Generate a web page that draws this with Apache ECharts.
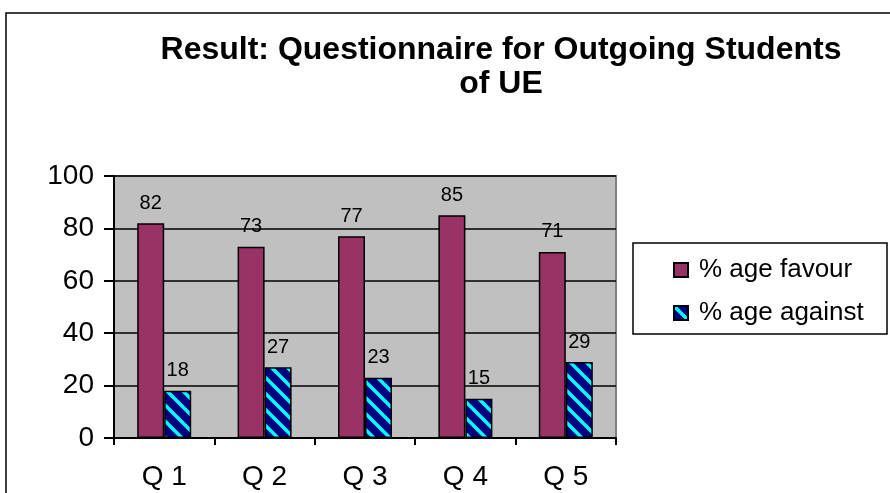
<!DOCTYPE html>
<html><head><meta charset="utf-8">
<script src="https://cdn.jsdelivr.net/npm/echarts@6/dist/echarts.min.js"></script>
<style>html,body{margin:0;padding:0;background:#fff}#c{width:890px;height:493px}</style>
</head><body><div id="c"></div>
<script>
const categories = ['Q 1', 'Q 2', 'Q 3', 'Q 4', 'Q 5'];
const favourValues = [82, 73, 77, 85, 71];
const againstValues = [18, 27, 23, 15, 29];
const seriesNames = ['% age favour', '% age against'];
const titleText = 'Result: Questionnaire for Outgoing Students\nof UE';

function stripePattern() {
  const s = 16;
  const cv = document.createElement('canvas');
  cv.width = s; cv.height = s;
  const ctx = cv.getContext('2d');
  ctx.fillStyle = '#000080';
  ctx.fillRect(0, 0, s, s);
  ctx.strokeStyle = '#00FFFF';
  ctx.lineWidth = 3.5;
  for (let c = -s; c <= s; c += s) {
    ctx.beginPath();
    ctx.moveTo(-2, -2 + c);
    ctx.lineTo(s + 2, s + 2 + c);
    ctx.stroke();
  }
  return cv;
}

const chart = echarts.init(document.getElementById('c'), null, {renderer: 'canvas'});
const font = 'Arial, "Liberation Sans", sans-serif';
chart.setOption({
  animation: false,
  backgroundColor: '#fff',
  title: {
    text: titleText,
    left: 496, top: 28, textAlign: 'center',
    textStyle: {fontFamily: font, fontWeight: 'bold', fontSize: 32, lineHeight: 34, color: '#000'}
  },
  legend: {
    orient: 'vertical',
    left: 668, top: 252,
    icon: 'rect',
    itemWidth: 14, itemHeight: 14, itemGap: 17,
    textStyle: {fontFamily: font, fontSize: 26, color: '#000', padding: [0, 0, 0, 6], lineHeight: 26},
    data: seriesNames
  },
  graphic: [
    {type: 'rect', shape: {x: 6, y: 13, width: 900, height: 500}, style: {fill: null, stroke: '#000', lineWidth: 1.5}, z: -1},
    {type: 'rect', shape: {x: 633, y: 243, width: 254, height: 91}, style: {fill: null, stroke: '#000', lineWidth: 1.5}, z: 10}
  ],
  grid: {
    left: 114, top: 176, right: 274, bottom: 55,
    show: true, backgroundColor: '#C0C0C0', borderColor: '#808080', borderWidth: 2
  },
  xAxis: {
    type: 'category', data: categories,
    axisLine: {lineStyle: {color: '#000', width: 2}},
    axisTick: {show: true, length: 7, lineStyle: {color: '#000', width: 2}},
    axisLabel: {fontFamily: font, fontSize: 28, color: '#000', margin: 25}
  },
  yAxis: {
    type: 'value', min: 0, max: 100, interval: 20,
    axisLine: {show: true, lineStyle: {color: '#000', width: 2}},
    axisTick: {show: true, length: 10, lineStyle: {color: '#000', width: 2}},
    axisLabel: {fontFamily: font, fontSize: 28, color: '#000', margin: 20},
    splitLine: {lineStyle: {color: '#000', width: 1.5}}
  },
  series: [
    {
      name: seriesNames[0], type: 'bar', data: favourValues,
      barWidth: 27, barGap: '0%',
      itemStyle: {color: '#993366', borderColor: '#000', borderWidth: 1.5},
      label: {show: true, position: 'top', distance: 10, fontFamily: font, fontSize: 20, color: '#000'}
    },
    {
      name: seriesNames[1], type: 'bar', data: againstValues,
      barWidth: 27,
      itemStyle: {color: {image: stripePattern(), repeat: 'repeat'}, borderColor: '#000', borderWidth: 1.5},
      label: {show: true, position: 'top', distance: 10, fontFamily: font, fontSize: 20, color: '#000'}
    }
  ]
});
</script></body></html>
